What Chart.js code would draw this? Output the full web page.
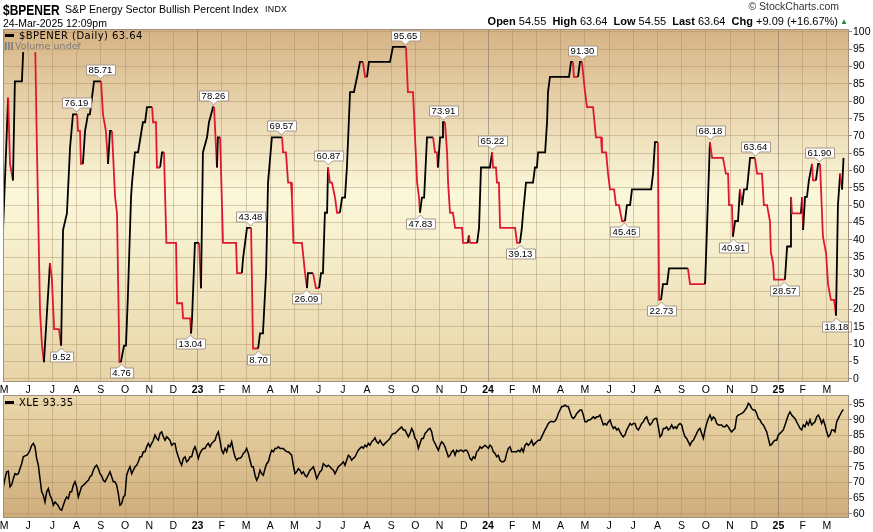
<!DOCTYPE html>
<html><head><meta charset="utf-8">
<script src="https://cdn.jsdelivr.net/npm/chart.js@4.4.1/dist/chart.umd.min.js"></script>
<style>
html,body{margin:0;padding:0;background:#fff;}
body{width:873px;height:532px;overflow:hidden;position:relative;font-family:"Liberation Sans",Arial,sans-serif;}
canvas{position:absolute;left:0;}
#c1{top:0;}
#c2{top:395px;}
.t{position:absolute;white-space:nowrap;color:#000;line-height:1;z-index:5;}
.lg{font-family:"DejaVu Sans",sans-serif;font-size:10px;letter-spacing:0.45px;}
.dash{display:inline-block;width:9px;height:3px;background:#000;vertical-align:middle;margin-right:5px;position:relative;top:-1px;}
</style></head><body>
<canvas id="c1" width="873" height="396" style="width:873px;height:396px"></canvas>
<canvas id="c2" width="873" height="137" style="width:873px;height:137px"></canvas>

<div class="t" style="left:3px;top:1.5px;font-weight:bold;font-size:15px;transform:scaleX(0.8);transform-origin:0 0;">$BPENER</div>
<div class="t" style="left:65px;top:3.5px;font-size:10.6px;">S&amp;P Energy Sector Bullish Percent Index</div>
<div class="t" style="left:265px;top:5px;font-size:8.8px;letter-spacing:0.3px;">INDX</div>
<div class="t" style="left:3px;top:18px;font-size:10.5px;">24-Mar-2025 12:09pm</div>
<div class="t" style="right:34px;top:1px;font-size:10.5px;color:#333;">&copy; StockCharts.com</div>
<div class="t" style="right:35px;top:16px;font-size:11px;"><b>Open</b> 54.55&nbsp; <b>High</b> 63.64&nbsp; <b>Low</b> 54.55&nbsp; <b>Last</b> 63.64&nbsp; <b>Chg</b> +9.09 (+16.67%)</div>
<div class="t" style="left:840px;top:18px;font-size:8px;color:#2a8a2a;">&#9650;</div>

<div class="t lg" style="left:5px;top:31px;"><span class="dash"></span>$BPENER (Daily) 63.64</div>
<div class="t lg" style="left:5px;top:41px;color:#7a7a7a;font-size:9.4px;letter-spacing:0.1px;"><span style="display:inline-block;width:8px;height:8px;margin-right:2px;vertical-align:-1px;background:linear-gradient(90deg,#888 0 2px,transparent 2px 3px,#888 3px 5px,transparent 5px 6px,#888 6px 8px);"></span>Volume undef</div>
<div class="t lg" style="left:5px;top:398px;"><span class="dash"></span>XLE 93.35</div>

<script>
// ---------- DATA ----------
// x positions are in months since 1 May 2022 (fractional)
const MONTH_LABELS = ['M','J','J','A','S','O','N','D','23','F','M','A','M','J','J','A','S','O','N','D','24','F','M','A','M','J','J','A','S','O','N','D','25','F','M'];
const YEAR_IDX = [8, 20, 32];
const BPI_TICKS = [0,5,10,15,20,25,30,35,40,45,50,55,60,65,70,75,80,85,90,95,100];
const XLE_TICKS = [60,65,70,75,80,85,90,95];

const bpiT = [-0.04,0.17,0.25,0.37,0.45,0.74,0.83,1.28,1.36,1.49,1.57,1.65,1.90,1.98,2.07,2.27,2.36,2.44,2.60,2.73,
2.85,3.02,3.06,3.14,3.18,3.26,3.35,3.47,3.55,3.72,4.01,4.09,4.21,4.30,4.38,4.46,4.59,4.67,4.77,4.83,
4.96,5.04,5.12,5.25,5.29,5.41,5.54,5.74,5.83,5.91,6.12,6.16,6.28,6.32,6.45,6.53,6.61,6.71,7.11,7.15,
7.36,7.40,7.69,7.73,7.77,7.89,8.06,8.14,8.22,8.39,8.47,8.64,8.68,8.80,8.84,8.93,9.05,9.59,9.63,9.83,
9.88,10.04,10.21,10.29,10.50,10.58,10.70,10.83,10.91,11.07,11.49,11.53,11.65,11.74,11.86,11.90,11.96,12.31,12.44,12.52,
12.56,12.77,12.89,13.02,13.10,13.18,13.26,13.35,13.39,13.47,13.55,13.68,13.76,13.88,13.97,14.09,14.17,14.30,14.46,14.59,
14.71,14.83,14.92,15.00,15.08,15.95,16.07,16.61,16.69,16.90,17.07,17.15,17.19,17.27,17.36,17.48,17.73,17.81,17.89,17.93,
18.02,18.10,18.14,18.22,18.31,18.35,18.43,18.55,18.64,18.93,18.97,19.17,19.21,19.26,19.55,19.63,19.71,20.08,20.17,20.21,
20.33,20.37,20.45,20.50,21.12,21.20,21.32,21.40,21.45,21.57,21.86,21.94,22.02,22.07,22.36,22.44,22.48,22.56,23.35,23.43,
23.51,23.55,23.72,23.80,23.88,24.01,24.09,24.34,24.46,24.67,24.71,24.88,24.96,25.04,25.21,25.29,25.41,25.54,25.66,25.74,
25.87,25.95,26.74,26.82,26.90,27.02,27.07,27.15,27.23,27.40,27.48,28.26,28.35,28.97,29.17,29.26,29.71,29.83,29.92,29.96,
30.08,30.12,30.21,30.33,30.41,30.50,30.58,30.70,30.83,31.03,31.12,31.32,31.40,31.53,31.65,31.69,31.78,31.82,32.27,32.36,
32.48,32.52,32.56,32.93,32.98,33.02,33.10,33.18,33.26,33.39,33.43,33.55,33.64,33.72,33.84,33.97,34.05,34.17,34.30,34.38,
34.46,34.55,34.63,34.69];
const bpiV = [42.86,80.95,61.90,57.14,85.71,85.71,100,100,66.67,19.05,9.52,4.76,33.33,28.57,14.29,14.29,9.52,42.86,47.62,66.67,
76.19,76.19,71.43,71.43,61.90,61.90,71.43,76.19,76.19,85.71,85.71,76.19,71.43,61.90,71.43,71.43,52.38,47.62,4.76,4.76,
9.52,9.52,23.81,52.38,56.52,65.22,65.22,73.91,73.91,78.26,78.26,73.91,73.91,60.87,60.87,65.22,65.22,39.13,39.13,21.74,
21.74,17.39,17.39,13.04,17.39,39.13,39.13,26.09,65.22,69.57,73.91,78.26,78.26,60.87,69.57,69.57,39.13,39.13,30.43,30.43,
34.78,43.48,43.48,8.70,8.70,13.04,13.04,30.43,56.52,69.57,69.57,65.22,65.22,56.52,56.52,52.17,39.13,39.13,30.43,26.09,
30.43,30.43,26.09,26.09,30.43,30.43,47.83,47.83,60.87,56.52,56.52,52.17,47.83,47.83,52.17,52.17,60.87,82.61,82.61,86.96,
91.30,91.30,86.96,86.96,91.30,91.30,95.65,95.65,82.61,82.61,56.52,52.17,47.83,52.17,52.17,69.57,69.57,65.22,65.22,60.87,
69.57,69.57,73.91,73.91,65.22,56.52,47.83,47.83,43.48,43.48,39.13,39.13,41.30,39.13,39.13,43.48,60.87,60.87,65.22,60.87,
60.87,56.52,56.52,43.48,43.48,39.13,39.13,43.48,47.83,56.52,56.52,60.87,60.87,65.22,65.22,73.91,82.61,86.96,86.96,91.30,
91.30,86.96,86.96,91.30,91.30,82.61,78.26,78.26,69.57,69.57,65.22,65.22,59.09,54.55,54.55,50.00,50.00,45.45,45.45,50.00,
50.00,54.55,54.55,59.09,68.18,68.18,22.73,22.73,27.27,27.27,31.82,31.82,27.27,27.27,68.18,63.64,63.64,59.09,59.09,50.00,
50.00,40.91,45.45,45.45,54.55,50.00,54.55,54.55,63.64,63.64,59.09,59.09,50.00,50.00,45.45,36.36,33.33,28.57,28.57,38.10,
38.10,52.38,47.62,47.62,52.38,42.86,52.38,52.38,57.14,61.90,57.14,57.14,61.90,61.90,40.91,36.10,27.27,22.73,22.73,18.18,
50.00,59.09,54.55,63.64];

// labelled turning points: month position, value, 1 = label above (peak), -1 = below (trough)
const tagT = [2.98,3.97,2.36,4.83,8.64,7.69,10.17,10.50,11.45,12.48,13.39,16.57,17.19,18.14,20.17,21.32,23.88,25.62,27.15,29.17,30.12,31.03,32.23,33.68,34.38];
const tagV = [76.19,85.71,9.52,4.76,78.26,13.04,43.48,8.70,69.57,26.09,60.87,95.65,47.83,73.91,65.22,39.13,91.30,45.45,22.73,68.18,40.91,63.64,28.57,61.90,18.18];
const tagSide = [1,1,-1,-1,1,-1,1,-1,1,-1,1,1,-1,1,1,-1,1,-1,-1,1,-1,1,-1,1,-1];

// XLE closes sampled at a regular step (month units)
const xleStart = -0.0276, xleStep = 0.06887;
const xleV = [68.6,71.2,73.4,73.6,68.6,69.3,71.2,72.8,72.5,72.8,
74.4,76.0,78.2,78.5,78.7,79.3,80.3,81.9,82.5,81.4,
77.7,75.5,71.2,67.0,65.9,63.7,67.0,68.0,65.9,64.8,
62.7,63.7,63.2,62.5,61.4,61.1,62.7,64.3,65.3,64.8,
67.0,67.0,69.1,70.2,68.6,65.3,67.0,68.6,69.1,69.6,
70.2,70.7,71.8,72.3,73.9,75.0,75.5,74.4,72.8,72.1,
70.7,70.2,71.2,72.3,73.4,71.8,70.2,70.2,69.1,66.4,
62.7,63.2,65.3,65.9,72.3,73.9,75.0,72.8,73.9,75.0,
75.5,76.6,78.2,78.2,79.8,79.8,81.4,82.5,81.4,82.5,
83.5,85.2,84.1,83.5,85.7,86.2,84.6,83.5,84.6,84.1,
83.5,81.9,82.5,82.5,79.8,78.2,76.6,75.5,77.7,78.2,
76.6,77.1,78.2,78.2,80.3,81.4,79.8,77.7,79.3,80.3,
80.9,80.9,81.9,82.5,81.4,82.5,83.0,83.5,85.2,86.2,
83.5,80.3,79.3,80.9,79.8,81.9,81.4,83.0,80.3,78.2,
77.1,77.7,77.7,78.2,79.3,79.8,80.9,79.3,77.1,75.0,
75.0,72.3,70.7,71.8,73.9,72.8,72.3,74.4,76.0,76.6,
78.7,80.3,79.8,80.9,80.9,81.4,80.9,80.9,80.9,80.3,
79.8,79.8,79.3,78.7,75.5,72.8,73.4,74.4,73.9,72.8,
73.4,72.3,71.8,72.8,73.9,74.4,75.0,73.4,71.2,72.3,
73.4,73.9,76.0,75.5,75.0,75.5,75.0,74.4,73.9,72.8,
73.9,75.0,75.5,76.0,76.6,75.5,77.1,78.7,78.2,77.1,
77.7,78.2,79.3,80.3,80.9,81.4,80.9,81.9,81.4,82.5,
81.9,83.0,83.5,84.3,83.0,82.5,83.5,82.5,81.9,82.5,
83.0,83.5,84.1,85.2,85.7,85.7,86.2,86.8,87.3,87.8,
86.8,86.8,85.7,84.6,85.7,87.3,86.2,84.1,83.5,80.9,
82.5,84.1,84.1,85.7,86.2,87.0,
87.3,86.2,83.5,82.5,81.4,80.3,81.9,83.0,82.5,81.4,
79.8,78.2,78.7,79.8,80.3,78.7,80.3,79.8,80.3,80.3,
79.8,80.3,80.3,79.3,77.7,77.1,78.2,77.7,79.8,80.3,
81.4,80.9,81.4,81.9,81.4,80.9,81.9,81.4,79.8,79.3,
78.2,78.7,77.1,76.6,76.6,77.1,79.3,80.9,81.4,79.8,
79.8,79.8,79.8,80.3,79.8,80.9,79.8,81.9,82.5,81.9,
82.5,83.5,81.9,82.5,83.0,83.5,83.5,84.6,85.7,86.8,
87.8,88.9,89.4,89.6,89.4,89.6,90.5,92.1,93.2,94.3,
94.3,94.8,94.3,94.3,92.6,91.0,90.5,91.0,92.1,92.6,
93.2,93.2,91.6,89.4,89.4,90.0,90.0,90.5,91.0,90.5,
91.0,91.0,91.6,90.0,88.4,88.9,88.4,89.4,90.0,88.4,
87.3,87.8,86.8,87.3,86.2,85.2,84.6,85.2,86.8,87.8,
88.9,88.4,88.9,88.9,87.3,86.8,87.8,88.9,89.4,90.5,
91.0,89.4,88.4,88.9,90.0,90.5,90.5,87.8,84.6,85.2,
87.3,87.3,87.8,86.8,87.3,88.4,87.3,87.8,87.3,88.4,
88.9,88.4,86.2,84.6,84.1,83.0,81.9,83.0,83.5,84.6,
85.7,86.8,87.3,85.7,84.1,86.8,88.9,90.5,91.6,90.0,
91.0,90.5,88.9,88.4,88.4,88.4,87.8,87.8,88.4,87.8,
86.8,86.2,86.8,87.3,91.0,91.6,91.8,92.1,92.4,93.2,
93.9,95.3,94.8,93.7,93.2,93.2,92.1,90.5,90.0,88.9,
88.4,87.3,86.2,84.1,81.9,82.2,83.0,83.5,83.5,85.2,
85.7,86.2,86.8,88.4,90.0,91.6,92.6,91.6,91.0,90.5,
89.4,88.4,87.3,86.8,88.4,87.8,89.4,88.4,90.0,88.4,
88.9,89.4,91.0,91.6,90.5,88.9,90.0,88.4,86.2,84.6,
85.2,86.8,86.8,86.2,89.4,90.5,91.6,92.6,93.35];

// ---------- STYLE / BUILD ----------
const RED = '#e0182f', BLACK = '#000000';
const X_MIN = -0.0413, X_MAX = 34.917;
const FONT = '"Liberation Sans", Arial, sans-serif';
const GRID = 'rgba(165,135,95,0.40)';
const GRID_YEAR = 'rgba(120,110,105,0.55)';

const segColor = [];
(function(){ let c = BLACK; for (let i = 0; i < bpiV.length - 1; i++) { const d = bpiV[i+1] - bpiV[i]; if (d < 0) c = RED; else if (d > 0) c = BLACK; segColor.push(c); } })();

const bpiData = bpiT.map((t, i) => ({x: t, y: bpiV[i]}));
const xleData = xleV.map((v, i) => ({x: xleStart + i * xleStep, y: v}));

function zeroPad(s){ s.paddingTop = 0; s.paddingBottom = 0; s.paddingLeft = 0; s.paddingRight = 0; }

function xScaleOpts(){
  return {
    type: 'linear', min: X_MIN, max: X_MAX,
    afterBuildTicks: s => { s.ticks = MONTH_LABELS.map((_, i) => ({value: i})); },
    ticks: {
      autoSkip: false, maxRotation: 0, minRotation: 0, padding: 2, color: '#000',
      callback: (v) => MONTH_LABELS[Math.round(v)],
      font: ctx => ({family: FONT, size: 10.5, weight: (ctx.tick && YEAR_IDX.includes(ctx.tick.value)) ? 'bold' : 'normal'})
    },
    grid: { drawTicks: false, lineWidth: 1,
      color: ctx => (ctx.tick && YEAR_IDX.includes(ctx.tick.value)) ? GRID_YEAR : GRID },
    border: { display: false },
    afterFit: s => { s.height = 14; zeroPad(s); }
  };
}
function yScaleOpts(min, max, ticks){
  return {
    position: 'right', min: min, max: max,
    afterBuildTicks: s => { s.ticks = ticks.map(v => ({value: v})); },
    ticks: { color: '#000', padding: 1, font: {family: FONT, size: 10.5}, callback: v => String(v) },
    grid: { color: GRID, tickColor: '#888', tickLength: 3, lineWidth: 1 },
    border: { display: false },
    afterFit: s => { s.width = 24; zeroPad(s); }
  };
}

function gradientBg(stops){
  return {
    id: 'bg',
    beforeDraw(chart){
      const {ctx, chartArea: a} = chart;
      const g = ctx.createLinearGradient(0, a.top, 0, a.bottom);
      stops.forEach(s => g.addColorStop(s[0], s[1]));
      ctx.save(); ctx.fillStyle = g; ctx.fillRect(a.left, a.top, a.right - a.left, a.bottom - a.top); ctx.restore();
    },
    afterDraw(chart){
      const {ctx, chartArea: a} = chart;
      ctx.save(); ctx.strokeStyle = '#9f8f80'; ctx.lineWidth = 1;
      ctx.strokeRect(a.left + 0.5, a.top + 0.5, a.right - a.left - 1, a.bottom - a.top - 1);
      ctx.restore();
    }
  };
}

const TOP_STOPS = [[0,'#d6b384'],[0.47,'#fbf8da'],[1,'#e7d4a7']];
const BOT_STOPS = [[0,'#ebd8ab'],[1,'#cfad7b']];

// legend box that hides the line under the legend text, with grid re-drawn
const legendBox = {
  id: 'legendBox',
  afterDatasetsDraw(chart){
    const {ctx, chartArea: a, scales: {x, y}} = chart;
    const L = a.left + 1, T = a.top + 1, W = 78, H = 22;
    const g = ctx.createLinearGradient(0, a.top, 0, a.bottom);
    TOP_STOPS.forEach(s => g.addColorStop(s[0], s[1]));
    ctx.save(); ctx.fillStyle = g; ctx.fillRect(L, T, W, H);
    ctx.beginPath(); ctx.rect(L, T, W, H); ctx.clip();
    ctx.strokeStyle = GRID; ctx.lineWidth = 1;
    BPI_TICKS.forEach(v => { const py = Math.round(y.getPixelForValue(v)) + 0.5; ctx.beginPath(); ctx.moveTo(L, py); ctx.lineTo(L + W, py); ctx.stroke(); });
    MONTH_LABELS.forEach((_, i) => { const px = Math.round(x.getPixelForValue(i)) + 0.5; ctx.beginPath(); ctx.moveTo(px, T); ctx.lineTo(px, T + H); ctx.stroke(); });
    ctx.restore();
  }
};

const tags = {
  id: 'tags',
  afterDatasetsDraw(chart){
    const {ctx, scales: {x, y}} = chart;
    ctx.save();
    ctx.font = '9.5px ' + FONT;
    ctx.textAlign = 'center'; ctx.textBaseline = 'middle';
    tagT.forEach((t, i) => {
      const txt = tagV[i].toFixed(2);
      const px = Math.round(x.getPixelForValue(t)) + 0.5;
      const py = Math.round(y.getPixelForValue(tagV[i]));
      const w = Math.round(ctx.measureText(txt).width) + 5, h = 10, pt = 4;
      const bx = Math.round(px - w / 2) + 0.5;
      ctx.beginPath();
      let by;
      if (tagSide[i] > 0) {
        const tip = py - 2; by = tip - pt - h;
        ctx.moveTo(bx, by); ctx.lineTo(bx + w, by); ctx.lineTo(bx + w, by + h);
        ctx.lineTo(px + 4, by + h); ctx.lineTo(px, tip); ctx.lineTo(px - 4, by + h); ctx.lineTo(bx, by + h);
      } else {
        const tip = py + 2; by = tip + pt;
        ctx.moveTo(bx, by); ctx.lineTo(px - 4, by); ctx.lineTo(px, tip); ctx.lineTo(px + 4, by);
        ctx.lineTo(bx + w, by); ctx.lineTo(bx + w, by + h); ctx.lineTo(bx, by + h);
      }
      ctx.closePath();
      ctx.fillStyle = '#ffffff'; ctx.fill();
      ctx.strokeStyle = '#a89888'; ctx.lineWidth = 1; ctx.stroke();
      ctx.fillStyle = '#000';
      ctx.fillText(txt, px, by + h / 2 + 0.5);
    });
    ctx.restore();
  }
};

const common = {
  responsive: false, animation: false, events: [],
  plugins: { legend: {display: false}, tooltip: {enabled: false}, title: {display: false} },
  elements: { point: {radius: 0} }
};

new Chart(document.getElementById('c1'), {
  type: 'line',
  data: { datasets: [{
    data: bpiData, borderWidth: 1.8, borderColor: BLACK, pointRadius: 0, tension: 0, fill: false,
    segment: { borderColor: ctx => segColor[ctx.p0DataIndex] }
  }]},
  options: Object.assign({}, common, {
    layout: { padding: {left: 3, top: 29, right: 0, bottom: 0} },
    scales: { x: xScaleOpts(), y: yScaleOpts(-0.95, 100.78, BPI_TICKS) }
  }),
  plugins: [gradientBg(TOP_STOPS), legendBox, tags]
});

new Chart(document.getElementById('c2'), {
  type: 'line',
  data: { datasets: [{
    data: xleData, borderWidth: 1.5, borderColor: BLACK, pointRadius: 0, tension: 0, fill: false
  }]},
  options: Object.assign({}, common, {
    layout: { padding: {left: 3, top: 0, right: 0, bottom: 0} },
    scales: { x: xScaleOpts(), y: yScaleOpts(58.6, 98.0, XLE_TICKS) }
  }),
  plugins: [gradientBg(BOT_STOPS)]
});
</script>
</body></html>
